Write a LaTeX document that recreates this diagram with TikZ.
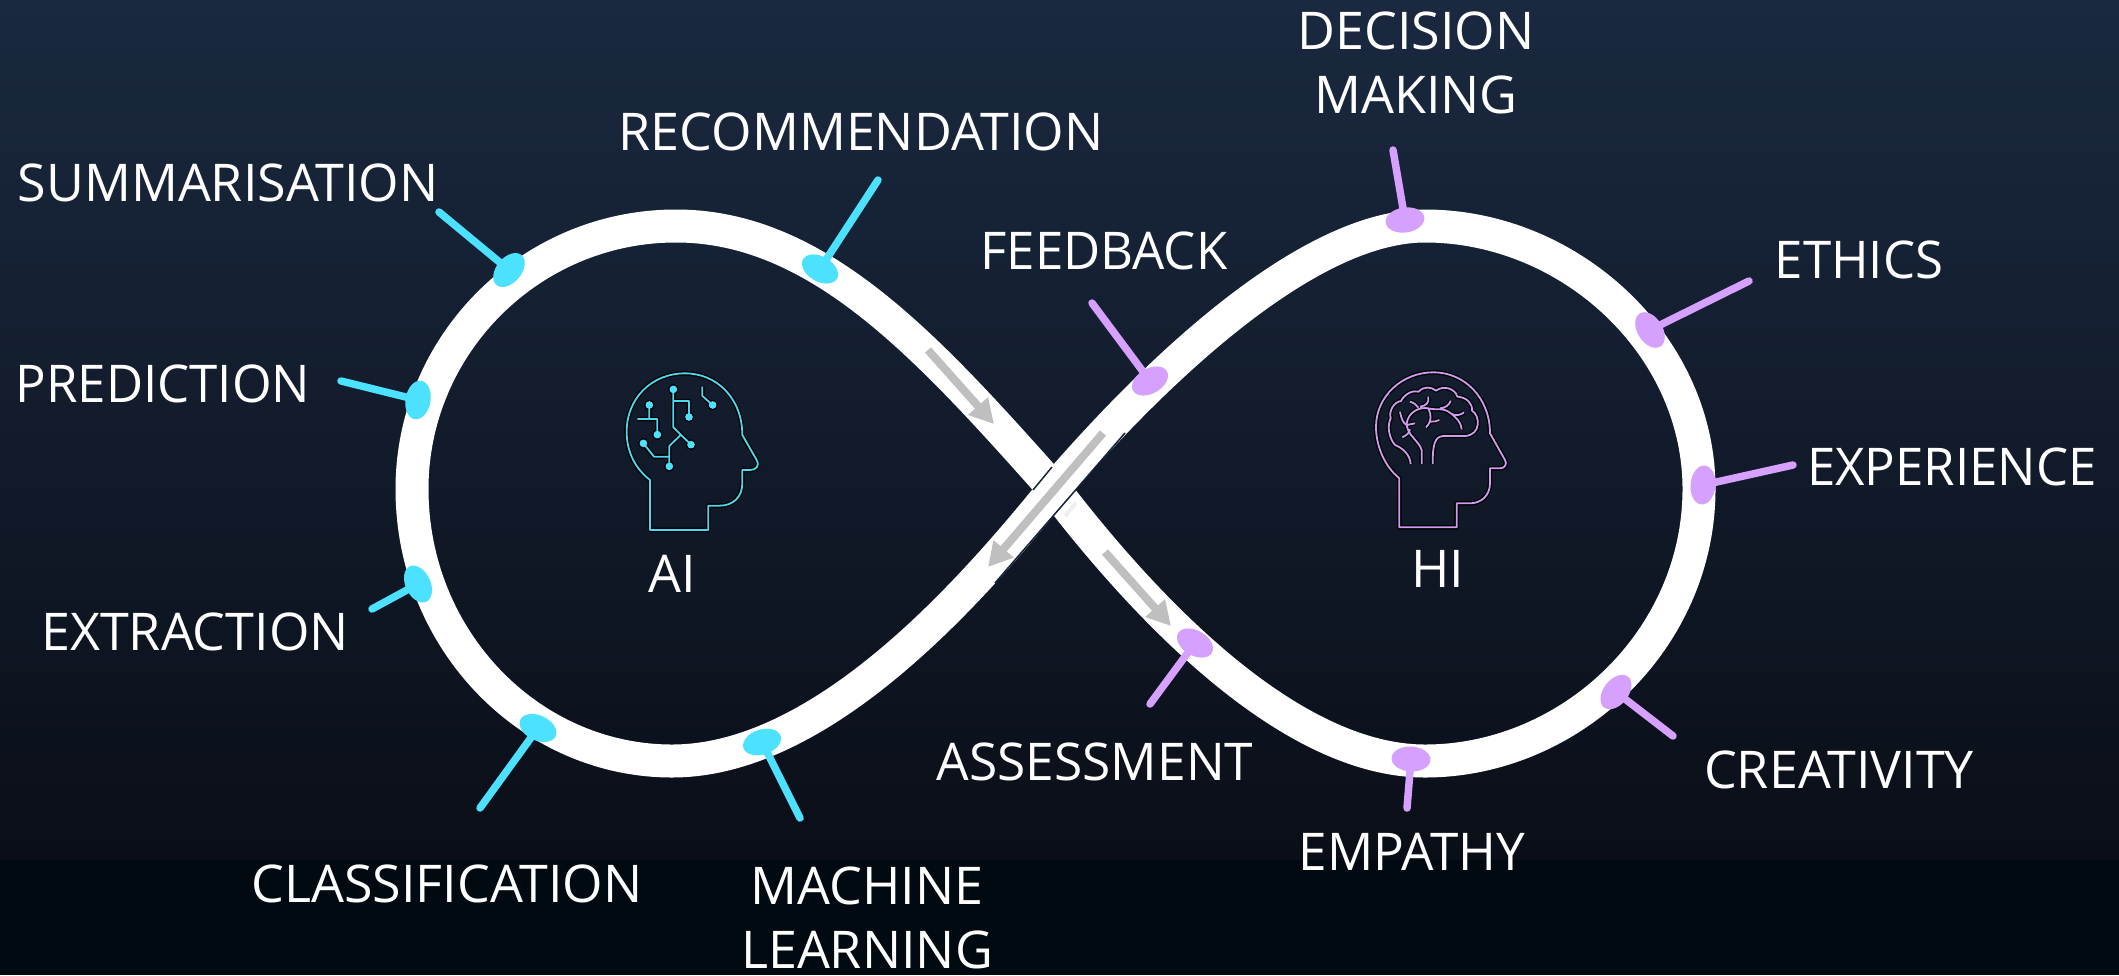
\documentclass[tikz,border=0pt]{standalone}
\usepackage{fontspec}
\setmainfont{Open Sans}
\usetikzlibrary{shapes.geometric,arrows.meta}
\definecolor{bgtop}{HTML}{1A2940}
\definecolor{bgbot}{HTML}{0A0E17}
\definecolor{bgfoot}{HTML}{000A10}
\definecolor{cy}{HTML}{4CE1FF}
\definecolor{pu}{HTML}{D6A0FF}
\definecolor{icoc}{HTML}{4CD8F0}
\definecolor{icop}{HTML}{CE9BF0}
\definecolor{seam}{HTML}{16223A}
\definecolor{ga}{HTML}{BFBFBF}
\definecolor{smudge}{HTML}{EFEFEF}
\tikzset{
 band/.style={draw=white,line width=33pt,line join=round},
 cdot/.style={ellipse,fill=cy,inner sep=0pt,minimum width=39pt,minimum height=25pt},
 pdot/.style={ellipse,fill=pu,inner sep=0pt,minimum width=39pt,minimum height=25pt},
 cline/.style={draw=cy,line width=7.5pt,line cap=round},
 pline/.style={draw=pu,line width=7.5pt,line cap=round},
 lab/.style={text=white,font=\fontsize{52}{64}\selectfont,align=center,inner sep=0pt},
 garrow/.style={draw=ga,line width=8pt,-{Triangle[length=24pt,width=25pt]}},
 seamline/.style={draw=seam,line width=1.5pt},
 halo/.style={draw=black,line width=4.5pt,line join=round},
 icol/.style={line width=1.8pt,line join=round},
}
\newcommand{\sx}[2]{\scalebox{#1}[1]{#2}}
\newcommand{\aihead}{(210,570) -- (210,420) .. controls (165,385) and (140,335) .. (140,275) .. controls (140,175) and (215,100) .. (315,100) .. controls (410,100) and (487,175) .. (487,285) -- (530,360) .. controls (540,378) and (528,390) .. (510,390) -- (487,390) -- (487,430) .. controls (487,470) and (460,497) .. (420,497) -- (385,497) -- (385,570) -- cycle
 (280,148) -- (280,262) -- (333,314) (280,183) -- (327,183) -- (327,231) (208,195) -- (208,237) (172,237) -- (232,237) -- (232,284) (190,310) -- (222,350) -- (268,350) (268,379) -- (268,318) -- (302,285) (367,140) -- (367,168) -- (398,195)}
\newcommand{\hihead}{(178,562) -- (178,415) .. controls (135,380) and (108,320) .. (108,260) .. controls (108,170) and (185,97) .. (280,97) .. controls (375,97) and (450,175) .. (450,280) -- (495,360) .. controls (502,372) and (495,385) .. (480,385) -- (450,385) -- (450,430) .. controls (450,465) and (425,490) .. (390,490) -- (350,490) -- (350,562) -- cycle
 (212,372) .. controls (210,345) and (190,325) .. (165,315) .. controls (148,295) and (140,260) .. (152,235) .. controls (145,210) and (165,185) .. (183,183) .. controls (195,160) and (220,150) .. (236,155) .. controls (250,138) and (275,140) .. (288,152) .. controls (310,135) and (345,145) .. (352,170) .. controls (380,172) and (398,190) .. (396,212) .. controls (420,225) and (425,285) .. (375,288) -- (310,288) .. controls (285,290) and (278,310) .. (278,372)
 (245,372) -- (245,330) .. controls (235,300) and (200,285) .. (200,250) .. controls (205,215) and (240,200) .. (265,205) .. controls (290,212) and (310,200) .. (335,222) .. controls (350,235) and (362,245) .. (365,268)
 (180,215) .. controls (185,240) and (190,250) .. (200,255) (187,292) .. controls (200,285) and (208,280) .. (210,268) (200,255) -- (225,250) (240,200) .. controls (258,197) and (268,190) .. (265,170) (210,185) .. controls (222,188) and (230,195) .. (235,203) (265,205) .. controls (275,225) and (275,245) .. (258,262) (270,245) .. controls (280,246) and (290,244) .. (298,240) (300,205) .. controls (318,203) and (328,195) .. (332,182) (335,222) .. controls (350,228) and (362,225) .. (372,217)}
\begin{document}
\begin{tikzpicture}[x=1pt,y=-1pt]
\useasboundingbox (0,0) rectangle (2119,975);
\shade[top color=bgtop,bottom color=bgbot] (0,0) rectangle (2119,861);
\fill[bgfoot] (0,860) rectangle (2119,975);

% infinity band
\path[band] (1054,489) .. controls (930,350) and (820,226) .. (676,226) .. controls (530,226) and (412,345) .. (412,489) .. controls (412,640) and (530,761) .. (672,761) .. controls (820,761) and (966,598) .. (1054,489) .. controls (1140,389) and (1300,226) .. (1425,226) .. controls (1570,226) and (1699,345) .. (1699,489) .. controls (1699,640) and (1570,761) .. (1425,761) .. controls (1295,761) and (1155,621) .. (1054,489) -- cycle;

% overlap detail at the crossing
\coordinate (s3a) at (1076,503); \coordinate (s3b) at (1065,516);
\path[draw=smudge,line width=4pt] (s3a) -- (s3b);
\coordinate (s1a) at (1125,433); \coordinate (s1b) at (995,583);
\coordinate (s2a) at (1052,467); \coordinate (s2b) at (1033,490);
\path[seamline] (s1a) -- (s1b);
\path[seamline] (s2a) -- (s2b);

% grey arrows
\coordinate (a1a) at (928,350); \coordinate (a1b) at (994,424);
\coordinate (a2a) at (1103,433); \coordinate (a2b) at (988,567);
\coordinate (a3a) at (1105,552); \coordinate (a3b) at (1171,626);
\path[garrow] (a1a) -- (a1b);
\path[garrow] (a2a) -- (a2b);
\path[garrow] (a3a) -- (a3b);

% connector free ends
\coordinate (e1) at (439,212); \coordinate (e2) at (878,180); \coordinate (e3) at (341,381);
\coordinate (e4) at (372,609); \coordinate (e5) at (480,808); \coordinate (e6) at (800,818);
\coordinate (f1) at (1393,150); \coordinate (f2) at (1092,303); \coordinate (f3) at (1749,281);
\coordinate (f4) at (1793,465); \coordinate (f5) at (1673,736); \coordinate (f6) at (1407,808);
\coordinate (f7) at (1150,704);

% dots
\coordinate (d1c) at (509,270); \coordinate (d2c) at (820,269); \coordinate (d3c) at (418,400);
\coordinate (d4c) at (418,584); \coordinate (d5c) at (538,728); \coordinate (d6c) at (762,742);
\coordinate (p1c) at (1405,220); \coordinate (p2c) at (1150,381); \coordinate (p3c) at (1650,330);
\coordinate (p4c) at (1703,485); \coordinate (p5c) at (1616,692); \coordinate (p6c) at (1411,759);
\coordinate (p7c) at (1195,643);
\foreach \a/\b in {d1c/e1,d2c/e2,d3c/e3,d4c/e4,d5c/e5,d6c/e6}{\path[cline] (\a) -- (\b);}
\foreach \a/\b in {p1c/f1,p2c/f2,p3c/f3,p4c/f4,p5c/f5,p6c/f6,p7c/f7}{\path[pline] (\a) -- (\b);}
\node[cdot,rotate=50] (d1) at (d1c) {};
\node[cdot,rotate=-30] (d2) at (d2c) {};
\node[cdot,rotate=80] (d3) at (d3c) {};
\node[cdot,rotate=-65] (d4) at (d4c) {};
\node[cdot,rotate=-25] (d5) at (d5c) {};
\node[cdot,rotate=18] (d6) at (d6c) {};
\node[pdot,rotate=8] (p1) at (p1c) {};
\node[pdot,rotate=30] (p2) at (p2c) {};
\node[pdot,rotate=-58] (p3) at (p3c) {};
\node[pdot,rotate=85] (p4) at (p4c) {};
\node[pdot,rotate=52] (p5) at (p5c) {};
\node[pdot,rotate=-3] (p6) at (p6c) {};
\node[pdot,rotate=-30] (p7) at (p7c) {};

% labels
\node[lab] (l1) at (228,182.5) {SUMMARISATION};
\node[lab] (l2) at (163,383.5) {\sx{0.98}{PREDICTION}};
\node[lab] (l3) at (195,632) {EXTRACTION};
\node[lab] (l4) at (447,883.5) {CLASSIFICATION};
\node[lab] (l5) at (867,918) {MACHINE\\LEARNING};
\node[lab] (l6) at (861,131.5) {RECOMMENDATION};
\node[lab] (l7) at (1104,251) {\sx{0.98}{FEEDBACK}};
\node[lab] (l8) at (1416,63) {DECISION\\MAKING};
\node[lab] (l9) at (1859,259.5) {\sx{0.98}{ETHICS}};
\node[lab] (l10) at (1952,466.5) {\sx{0.98}{EXPERIENCE}};
\node[lab] (l11) at (1839,769.5) {CREATIVITY};
\node[lab] (l12) at (1412,851.5) {\sx{0.985}{EMPATHY}};
\node[lab] (l13) at (1095,762) {\sx{0.99}{ASSESSMENT}};
\node[lab] (l14) at (672,574) {AI};
\node[lab] (l15) at (1438,568.5) {HI};

% AI icon
\begin{scope}[shift={(580,340)},scale=0.3333]
 \draw[halo] \aihead;
 \foreach \p in {(280,148),(327,231),(333,314),(208,195),(232,284),(190,310),(268,379),(398,195)}{\fill[black] \p circle (16);}
 \draw[icol,draw=icoc] \aihead;
 \foreach \p in {(280,148),(327,231),(333,314),(208,195),(232,284),(190,310),(268,379),(398,195)}{\fill[cy] \p circle (11.5);}
\end{scope}

% HI icon
\begin{scope}[shift={(1340,340)},scale=0.3333]
 \draw[halo] \hihead;
 \draw[icol,draw=icop] \hihead;
\end{scope}
\end{tikzpicture}
\end{document}
